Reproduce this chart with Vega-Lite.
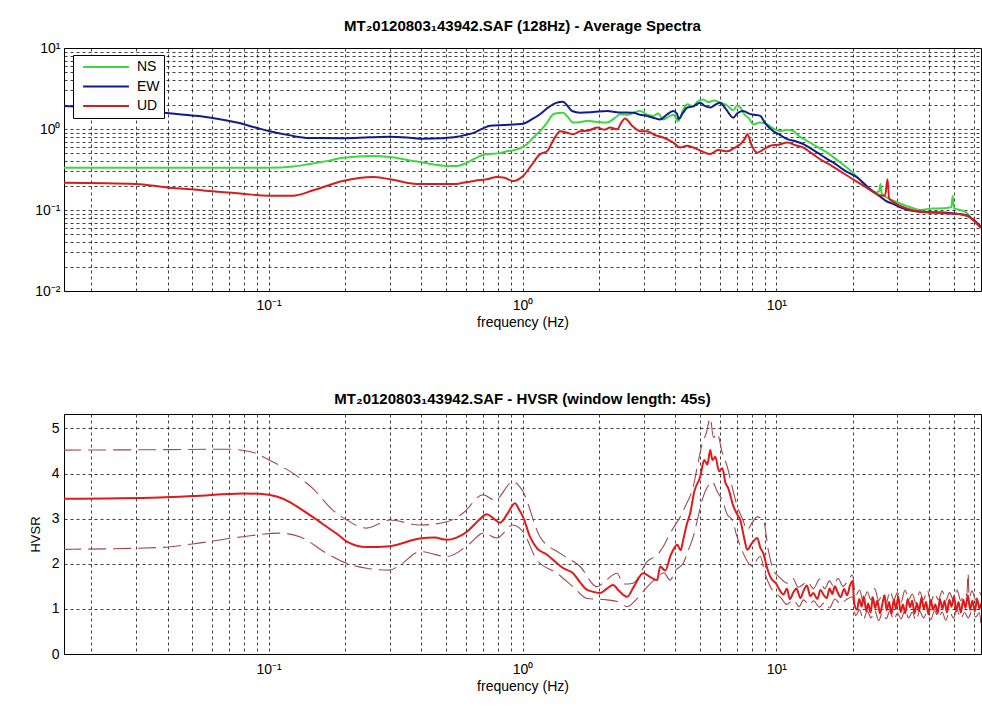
{
  "$schema": "https://vega.github.io/schema/vega-lite/v6.json",
  "padding": {"left": 28, "top": 18, "right": 0, "bottom": 0},
  "spacing": 61,
  "background": "white",
  "config": {
    "font": "Liberation Sans",
    "view": {"stroke": "black", "strokeWidth": 1},
    "axis": {
      "gridColor": "black", "gridDash": [3, 3], "gridOpacity": 0.75, "gridWidth": 1,
      "domain": false, "ticks": false, "labelColor": "black", "labelFontSize": 14,
      "titleFontSize": 14, "titleFontWeight": "normal", "titleColor": "black",
      "labelFont": "Liberation Sans", "titleFont": "Liberation Sans", "labelOverlap": false, "labelFlush": false
    },
    "title": {"fontSize": 15, "fontWeight": "bold", "color": "black", "font": "Liberation Sans", "offset": 7},
    "legend": {"labelFont": "Liberation Sans"}
  },
  "datasets": {
    "spectra": [
      {"comp":"NS","f":0.0155,"v":0.333},{"comp":"NS","f":0.03,"v":0.333},{"comp":"NS","f":0.06,"v":0.333},{"comp":"NS","f":0.1,"v":0.333},{"comp":"NS","f":0.125,"v":0.345},{"comp":"NS","f":0.145,"v":0.37},{"comp":"NS","f":0.175,"v":0.41},{"comp":"NS","f":0.196,"v":0.443},{"comp":"NS","f":0.257,"v":0.464},{"comp":"NS","f":0.3,"v":0.45},{"comp":"NS","f":0.36,"v":0.41},{"comp":"NS","f":0.405,"v":0.385},{"comp":"NS","f":0.504,"v":0.35},{"comp":"NS","f":0.551,"v":0.35},{"comp":"NS","f":0.6,"v":0.38},{"comp":"NS","f":0.638,"v":0.42},{"comp":"NS","f":0.724,"v":0.49},{"comp":"NS","f":0.8,"v":0.5},{"comp":"NS","f":0.869,"v":0.53},{"comp":"NS","f":0.95,"v":0.56},{"comp":"NS","f":1.042,"v":0.65},{"comp":"NS","f":1.1,"v":0.78},{"comp":"NS","f":1.172,"v":0.94},{"comp":"NS","f":1.25,"v":1.2},{"comp":"NS","f":1.319,"v":1.52},{"comp":"NS","f":1.38,"v":1.58},{"comp":"NS","f":1.444,"v":1.59},{"comp":"NS","f":1.51,"v":1.4},{"comp":"NS","f":1.582,"v":1.2},{"comp":"NS","f":1.7,"v":1.22},{"comp":"NS","f":1.797,"v":1.26},{"comp":"NS","f":1.97,"v":1.22},{"comp":"NS","f":2.154,"v":1.2},{"comp":"NS","f":2.3,"v":1.35},{"comp":"NS","f":2.424,"v":1.52},{"comp":"NS","f":2.6,"v":1.5},{"comp":"NS","f":2.75,"v":1.6},{"comp":"NS","f":2.908,"v":1.67},{"comp":"NS","f":3.1,"v":1.5},{"comp":"NS","f":3.27,"v":1.45},{"comp":"NS","f":3.42,"v":1.55},{"comp":"NS","f":3.583,"v":1.31},{"comp":"NS","f":3.8,"v":1.45},{"comp":"NS","f":3.93,"v":1.5},{"comp":"NS","f":4.107,"v":1.25},{"comp":"NS","f":4.3,"v":1.75},{"comp":"NS","f":4.457,"v":2.02},{"comp":"NS","f":4.7,"v":1.9},{"comp":"NS","f":4.9,"v":2.2},{"comp":"NS","f":5.152,"v":2.32},{"comp":"NS","f":5.4,"v":2.15},{"comp":"NS","f":5.7,"v":2.25},{"comp":"NS","f":6.013,"v":2.11},{"comp":"NS","f":6.4,"v":1.95},{"comp":"NS","f":6.77,"v":1.7},{"comp":"NS","f":7.0,"v":1.95},{"comp":"NS","f":7.211,"v":1.84},{"comp":"NS","f":7.5,"v":1.5},{"comp":"NS","f":7.8,"v":1.35},{"comp":"NS","f":8.116,"v":1.14},{"comp":"NS","f":8.6,"v":1.2},{"comp":"NS","f":9.215,"v":1.14},{"comp":"NS","f":9.8,"v":1.0},{"comp":"NS","f":10.37,"v":0.94},{"comp":"NS","f":11.0,"v":0.98},{"comp":"NS","f":11.67,"v":0.94},{"comp":"NS","f":12.4,"v":0.8},{"comp":"NS","f":13.26,"v":0.71},{"comp":"NS","f":14.5,"v":0.6},{"comp":"NS","f":15.89,"v":0.51},{"comp":"NS","f":17.4,"v":0.41},{"comp":"NS","f":19.06,"v":0.33},{"comp":"NS","f":21,"v":0.25},{"comp":"NS","f":22.86,"v":0.19},{"comp":"NS","f":24.5,"v":0.165},{"comp":"NS","f":25.4,"v":0.17},{"comp":"NS","f":25.72,"v":0.21},{"comp":"NS","f":26.0,"v":0.16},{"comp":"NS","f":27.5,"v":0.14},{"comp":"NS","f":28.94,"v":0.13},{"comp":"NS","f":32,"v":0.115},{"comp":"NS","f":36.98,"v":0.1},{"comp":"NS","f":41,"v":0.104},{"comp":"NS","f":45.6,"v":0.105},{"comp":"NS","f":48.9,"v":0.108},{"comp":"NS","f":49.5,"v":0.15},{"comp":"NS","f":50.1,"v":0.105},{"comp":"NS","f":53,"v":0.1},{"comp":"NS","f":56.7,"v":0.09},{"comp":"NS","f":58.3,"v":0.08},{"comp":"NS","f":61,"v":0.07},{"comp":"NS","f":64,"v":0.062},
      {"comp":"EW","f":0.0155,"v":1.92},{"comp":"EW","f":0.02,"v":1.85},{"comp":"EW","f":0.03,"v":1.7},{"comp":"EW","f":0.0396,"v":1.58},{"comp":"EW","f":0.05,"v":1.47},{"comp":"EW","f":0.0601,"v":1.37},{"comp":"EW","f":0.075,"v":1.2},{"comp":"EW","f":0.09,"v":1.03},{"comp":"EW","f":0.1,"v":0.945},{"comp":"EW","f":0.12,"v":0.84},{"comp":"EW","f":0.1451,"v":0.774},{"comp":"EW","f":0.1958,"v":0.77},{"comp":"EW","f":0.25,"v":0.79},{"comp":"EW","f":0.3,"v":0.8},{"comp":"EW","f":0.36,"v":0.78},{"comp":"EW","f":0.405,"v":0.76},{"comp":"EW","f":0.48,"v":0.77},{"comp":"EW","f":0.551,"v":0.8},{"comp":"EW","f":0.6,"v":0.85},{"comp":"EW","f":0.638,"v":0.89},{"comp":"EW","f":0.7,"v":1.02},{"comp":"EW","f":0.744,"v":1.1},{"comp":"EW","f":0.85,"v":1.12},{"comp":"EW","f":1.005,"v":1.16},{"comp":"EW","f":1.08,"v":1.3},{"comp":"EW","f":1.172,"v":1.52},{"comp":"EW","f":1.25,"v":1.8},{"comp":"EW","f":1.319,"v":2.02},{"comp":"EW","f":1.4,"v":2.15},{"comp":"EW","f":1.444,"v":2.17},{"comp":"EW","f":1.5,"v":1.95},{"comp":"EW","f":1.568,"v":1.67},{"comp":"EW","f":1.686,"v":1.59},{"comp":"EW","f":1.9,"v":1.62},{"comp":"EW","f":2.154,"v":1.67},{"comp":"EW","f":2.4,"v":1.6},{"comp":"EW","f":2.729,"v":1.59},{"comp":"EW","f":2.9,"v":1.5},{"comp":"EW","f":3.1,"v":1.45},{"comp":"EW","f":3.272,"v":1.38},{"comp":"EW","f":3.486,"v":1.31},{"comp":"EW","f":3.7,"v":1.5},{"comp":"EW","f":3.925,"v":1.67},{"comp":"EW","f":4.07,"v":1.53},{"comp":"EW","f":4.107,"v":1.33},{"comp":"EW","f":4.3,"v":1.6},{"comp":"EW","f":4.457,"v":1.84},{"comp":"EW","f":4.7,"v":1.9},{"comp":"EW","f":5.013,"v":2.11},{"comp":"EW","f":5.2,"v":1.95},{"comp":"EW","f":5.49,"v":1.84},{"comp":"EW","f":5.75,"v":2.0},{"comp":"EW","f":6.013,"v":2.11},{"comp":"EW","f":6.3,"v":1.8},{"comp":"EW","f":6.767,"v":1.38},{"comp":"EW","f":7.0,"v":1.55},{"comp":"EW","f":7.409,"v":1.67},{"comp":"EW","f":7.8,"v":1.55},{"comp":"EW","f":8.2,"v":1.5},{"comp":"EW","f":8.648,"v":1.45},{"comp":"EW","f":9.0,"v":1.2},{"comp":"EW","f":9.731,"v":0.94},{"comp":"EW","f":10.3,"v":0.85},{"comp":"EW","f":11.05,"v":0.75},{"comp":"EW","f":12.0,"v":0.7},{"comp":"EW","f":12.78,"v":0.65},{"comp":"EW","f":13.6,"v":0.58},{"comp":"EW","f":14.51,"v":0.51},{"comp":"EW","f":15.6,"v":0.44},{"comp":"EW","f":16.79,"v":0.385},{"comp":"EW","f":18.5,"v":0.31},{"comp":"EW","f":20.87,"v":0.25},{"comp":"EW","f":23,"v":0.19},{"comp":"EW","f":25.03,"v":0.155},{"comp":"EW","f":27,"v":0.13},{"comp":"EW","f":28.94,"v":0.118},{"comp":"EW","f":31.5,"v":0.105},{"comp":"EW","f":34.71,"v":0.097},{"comp":"EW","f":40,"v":0.094},{"comp":"EW","f":45.6,"v":0.093},{"comp":"EW","f":51,"v":0.09},{"comp":"EW","f":56.7,"v":0.085},{"comp":"EW","f":60,"v":0.075},{"comp":"EW","f":64,"v":0.062},
      {"comp":"UD","f":0.0155,"v":0.217},{"comp":"UD","f":0.03,"v":0.21},{"comp":"UD","f":0.0396,"v":0.19},{"comp":"UD","f":0.05,"v":0.18},{"comp":"UD","f":0.0601,"v":0.17},{"comp":"UD","f":0.08,"v":0.158},{"comp":"UD","f":0.1,"v":0.15},{"comp":"UD","f":0.1244,"v":0.15},{"comp":"UD","f":0.15,"v":0.175},{"comp":"UD","f":0.1958,"v":0.228},{"comp":"UD","f":0.2572,"v":0.256},{"comp":"UD","f":0.3,"v":0.24},{"comp":"UD","f":0.3835,"v":0.21},{"comp":"UD","f":0.551,"v":0.21},{"comp":"UD","f":0.582,"v":0.217},{"comp":"UD","f":0.65,"v":0.23},{"comp":"UD","f":0.724,"v":0.24},{"comp":"UD","f":0.793,"v":0.256},{"comp":"UD","f":0.85,"v":0.25},{"comp":"UD","f":0.917,"v":0.228},{"comp":"UD","f":1.005,"v":0.263},{"comp":"UD","f":1.08,"v":0.35},{"comp":"UD","f":1.172,"v":0.49},{"comp":"UD","f":1.249,"v":0.53},{"comp":"UD","f":1.33,"v":0.75},{"comp":"UD","f":1.406,"v":0.94},{"comp":"UD","f":1.5,"v":0.9},{"comp":"UD","f":1.582,"v":0.86},{"comp":"UD","f":1.686,"v":0.94},{"comp":"UD","f":1.8,"v":0.95},{"comp":"UD","f":1.968,"v":1.04},{"comp":"UD","f":2.1,"v":0.98},{"comp":"UD","f":2.214,"v":1.04},{"comp":"UD","f":2.36,"v":0.99},{"comp":"UD","f":2.45,"v":1.2},{"comp":"UD","f":2.536,"v":1.35},{"comp":"UD","f":2.7,"v":1.1},{"comp":"UD","f":2.908,"v":0.94},{"comp":"UD","f":3.099,"v":0.94},{"comp":"UD","f":3.3,"v":0.85},{"comp":"UD","f":3.6,"v":0.78},{"comp":"UD","f":3.925,"v":0.68},{"comp":"UD","f":4.182,"v":0.59},{"comp":"UD","f":4.45,"v":0.62},{"comp":"UD","f":4.706,"v":0.59},{"comp":"UD","f":5.1,"v":0.53},{"comp":"UD","f":5.49,"v":0.49},{"comp":"UD","f":5.9,"v":0.55},{"comp":"UD","f":6.409,"v":0.53},{"comp":"UD","f":6.8,"v":0.58},{"comp":"UD","f":7.211,"v":0.65},{"comp":"UD","f":7.5,"v":0.75},{"comp":"UD","f":7.685,"v":0.86},{"comp":"UD","f":8.0,"v":0.62},{"comp":"UD","f":8.414,"v":0.51},{"comp":"UD","f":8.9,"v":0.56},{"comp":"UD","f":9.47,"v":0.62},{"comp":"UD","f":10.2,"v":0.64},{"comp":"UD","f":11.05,"v":0.68},{"comp":"UD","f":11.9,"v":0.63},{"comp":"UD","f":12.78,"v":0.59},{"comp":"UD","f":13.8,"v":0.5},{"comp":"UD","f":14.92,"v":0.42},{"comp":"UD","f":16.3,"v":0.36},{"comp":"UD","f":17.89,"v":0.3},{"comp":"UD","f":19.6,"v":0.25},{"comp":"UD","f":21.45,"v":0.21},{"comp":"UD","f":23.2,"v":0.18},{"comp":"UD","f":25.03,"v":0.155},{"comp":"UD","f":26.8,"v":0.15},{"comp":"UD","f":27.41,"v":0.24},{"comp":"UD","f":27.8,"v":0.14},{"comp":"UD","f":29,"v":0.125},{"comp":"UD","f":30.85,"v":0.112},{"comp":"UD","f":34,"v":0.1},{"comp":"UD","f":39.42,"v":0.093},{"comp":"UD","f":44,"v":0.092},{"comp":"UD","f":49.9,"v":0.09},{"comp":"UD","f":54,"v":0.088},{"comp":"UD","f":58.3,"v":0.08},{"comp":"UD","f":61,"v":0.07},{"comp":"UD","f":64,"v":0.06}
    ],
    "hvsr": [
      {"curve":"mean","f":0.0155,"v":3.44},{"curve":"mean","f":0.0372,"v":3.47},{"curve":"mean","f":0.0501,"v":3.5},{"curve":"mean","f":0.079,"v":3.56},{"curve":"mean","f":0.0922,"v":3.55},{"curve":"mean","f":0.1075,"v":3.49},{"curve":"mean","f":0.12,"v":3.38},{"curve":"mean","f":0.1326,"v":3.23},{"curve":"mean","f":0.15,"v":3.03},{"curve":"mean","f":0.1694,"v":2.82},{"curve":"mean","f":0.19,"v":2.62},{"curve":"mean","f":0.2031,"v":2.49},{"curve":"mean","f":0.2435,"v":2.37},{"curve":"mean","f":0.3,"v":2.39},{"curve":"mean","f":0.394,"v":2.56},{"curve":"mean","f":0.45,"v":2.58},{"curve":"mean","f":0.504,"v":2.53},{"curve":"mean","f":0.55,"v":2.58},{"curve":"mean","f":0.604,"v":2.71},{"curve":"mean","f":0.66,"v":2.92},{"curve":"mean","f":0.724,"v":3.1},{"curve":"mean","f":0.77,"v":3.0},{"curve":"mean","f":0.815,"v":2.91},{"curve":"mean","f":0.87,"v":3.1},{"curve":"mean","f":0.934,"v":3.34},{"curve":"mean","f":0.97,"v":3.2},{"curve":"mean","f":1.005,"v":3.04},{"curve":"mean","f":1.07,"v":2.6},{"curve":"mean","f":1.141,"v":2.34},{"curve":"mean","f":1.25,"v":2.2},{"curve":"mean","f":1.368,"v":2.01},{"curve":"mean","f":1.45,"v":1.9},{"curve":"mean","f":1.582,"v":1.79},{"curve":"mean","f":1.68,"v":1.6},{"curve":"mean","f":1.797,"v":1.42},{"curve":"mean","f":1.9,"v":1.38},{"curve":"mean","f":2.022,"v":1.35},{"curve":"mean","f":2.15,"v":1.45},{"curve":"mean","f":2.275,"v":1.53},{"curve":"mean","f":2.4,"v":1.4},{"curve":"mean","f":2.583,"v":1.27},{"curve":"mean","f":2.75,"v":1.5},{"curve":"mean","f":2.988,"v":1.79},{"curve":"mean","f":3.2,"v":1.7},{"curve":"mean","f":3.393,"v":1.64},{"curve":"mean","f":3.486,"v":1.94},{"curve":"mean","f":3.65,"v":1.85},{"curve":"mean","f":3.819,"v":2.16},{"curve":"mean","f":3.925,"v":2.31},{"curve":"mean","f":4.07,"v":2.42},{"curve":"mean","f":4.2,"v":2.3},{"curve":"mean","f":4.297,"v":2.53},{"curve":"mean","f":4.45,"v":2.9},{"curve":"mean","f":4.578,"v":3.12},{"curve":"mean","f":4.75,"v":3.6},{"curve":"mean","f":5.013,"v":3.93},{"curve":"mean","f":5.2,"v":4.3},{"curve":"mean","f":5.35,"v":4.2},{"curve":"mean","f":5.49,"v":4.52},{"curve":"mean","f":5.6,"v":4.3},{"curve":"mean","f":5.746,"v":4.37},{"curve":"mean","f":5.95,"v":4.05},{"curve":"mean","f":6.124,"v":4.12},{"curve":"mean","f":6.3,"v":3.8},{"curve":"mean","f":6.467,"v":3.67},{"curve":"mean","f":6.75,"v":3.3},{"curve":"mean","f":7.0,"v":3.1},{"curve":"mean","f":7.211,"v":2.97},{"curve":"mean","f":7.45,"v":2.6},{"curve":"mean","f":7.685,"v":2.31},{"curve":"mean","f":8.0,"v":2.45},{"curve":"mean","f":8.414,"v":2.57},{"curve":"mean","f":8.65,"v":2.35},{"curve":"mean","f":8.887,"v":2.23},{"curve":"mean","f":9.2,"v":1.9},{"curve":"mean","f":9.47,"v":1.71},{"curve":"mean","f":10.0,"v":1.55},{"curve":"mean","f":10.3,"v":1.42},{"curve":"mean","f":10.66,"v":1.32},{"curve":"mean","f":11.0,"v":1.45},{"curve":"mean","f":11.3,"v":1.22},{"curve":"mean","f":11.7,"v":1.38},{"curve":"mean","f":12.0,"v":1.45},{"curve":"mean","f":12.44,"v":1.24},{"curve":"mean","f":12.8,"v":1.4},{"curve":"mean","f":13.2,"v":1.52},{"curve":"mean","f":13.6,"v":1.28},{"curve":"mean","f":14.0,"v":1.35},{"curve":"mean","f":14.5,"v":1.22},{"curve":"mean","f":14.92,"v":1.42},{"curve":"mean","f":15.4,"v":1.3},{"curve":"mean","f":15.8,"v":1.24},{"curve":"mean","f":16.2,"v":1.45},{"curve":"mean","f":16.6,"v":1.33},{"curve":"mean","f":17.0,"v":1.5},{"curve":"mean","f":17.4,"v":1.38},{"curve":"mean","f":17.9,"v":1.26},{"curve":"mean","f":18.5,"v":1.44},{"curve":"mean","f":19.0,"v":1.3},{"curve":"mean","f":19.5,"v":1.52},{"curve":"mean","f":19.94,"v":1.62},{"curve":"mean","f":20.3,"v":1.1},{"curve":"mean","f":20.8,"v":0.98},{"curve":"mean","f":21.2,"v":1.22},{"curve":"mean","f":21.7,"v":1.05},{"curve":"mean","f":22.1,"v":1.28},{"curve":"mean","f":22.6,"v":0.95},{"curve":"mean","f":23.0,"v":1.12},{"curve":"mean","f":23.5,"v":0.92},{"curve":"mean","f":24.0,"v":1.25},{"curve":"mean","f":24.5,"v":1.02},{"curve":"mean","f":25.0,"v":1.18},{"curve":"mean","f":25.6,"v":0.9},{"curve":"mean","f":26.1,"v":1.08},{"curve":"mean","f":26.7,"v":1.3},{"curve":"mean","f":27.2,"v":0.97},{"curve":"mean","f":27.8,"v":1.15},{"curve":"mean","f":28.4,"v":0.88},{"curve":"mean","f":29.0,"v":1.2},{"curve":"mean","f":29.6,"v":1.0},{"curve":"mean","f":30.2,"v":1.27},{"curve":"mean","f":30.9,"v":0.93},{"curve":"mean","f":31.5,"v":1.1},{"curve":"mean","f":32.2,"v":0.9},{"curve":"mean","f":32.9,"v":1.22},{"curve":"mean","f":33.6,"v":1.04},{"curve":"mean","f":34.3,"v":1.18},{"curve":"mean","f":35.0,"v":0.9},{"curve":"mean","f":35.8,"v":1.12},{"curve":"mean","f":36.5,"v":0.95},{"curve":"mean","f":37.3,"v":1.25},{"curve":"mean","f":38.1,"v":1.0},{"curve":"mean","f":38.9,"v":1.15},{"curve":"mean","f":39.7,"v":0.88},{"curve":"mean","f":40.6,"v":1.2},{"curve":"mean","f":41.4,"v":0.98},{"curve":"mean","f":42.3,"v":1.1},{"curve":"mean","f":43.2,"v":0.9},{"curve":"mean","f":44.1,"v":1.22},{"curve":"mean","f":45.1,"v":1.0},{"curve":"mean","f":46.0,"v":1.18},{"curve":"mean","f":47.0,"v":0.92},{"curve":"mean","f":48.0,"v":1.2},{"curve":"mean","f":49.0,"v":1.05},{"curve":"mean","f":50.1,"v":1.28},{"curve":"mean","f":51.1,"v":0.95},{"curve":"mean","f":52.2,"v":1.15},{"curve":"mean","f":53.3,"v":0.92},{"curve":"mean","f":54.5,"v":1.2},{"curve":"mean","f":55.6,"v":1.02},{"curve":"mean","f":56.8,"v":1.3},{"curve":"mean","f":58.0,"v":0.98},{"curve":"mean","f":59.2,"v":1.18},{"curve":"mean","f":60.5,"v":0.95},{"curve":"mean","f":61.8,"v":1.22},{"curve":"mean","f":63.1,"v":1.0},{"curve":"mean","f":64,"v":1.12},
      {"curve":"upper","f":0.0155,"v":4.52},{"curve":"upper","f":0.04,"v":4.53},{"curve":"upper","f":0.0683,"v":4.54},{"curve":"upper","f":0.0841,"v":4.49},{"curve":"upper","f":0.1037,"v":4.26},{"curve":"upper","f":0.1244,"v":4.01},{"curve":"upper","f":0.1492,"v":3.67},{"curve":"upper","f":0.1789,"v":3.19},{"curve":"upper","f":0.2031,"v":2.97},{"curve":"upper","f":0.2435,"v":2.79},{"curve":"upper","f":0.3,"v":2.97},{"curve":"upper","f":0.394,"v":2.86},{"curve":"upper","f":0.504,"v":2.93},{"curve":"upper","f":0.582,"v":3.12},{"curve":"upper","f":0.699,"v":3.53},{"curve":"upper","f":0.779,"v":3.41},{"curve":"upper","f":0.917,"v":3.82},{"curve":"upper","f":0.995,"v":3.64},{"curve":"upper","f":1.172,"v":2.6},{"curve":"upper","f":1.406,"v":2.23},{"curve":"upper","f":1.686,"v":1.94},{"curve":"upper","f":1.968,"v":1.49},{"curve":"upper","f":2.1,"v":1.6},{"curve":"upper","f":2.36,"v":1.79},{"curve":"upper","f":2.5,"v":1.55},{"curve":"upper","f":2.729,"v":1.57},{"curve":"upper","f":3.099,"v":2.05},{"curve":"upper","f":3.4,"v":2.2},{"curve":"upper","f":3.6,"v":2.4},{"curve":"upper","f":3.819,"v":2.68},{"curve":"upper","f":4.182,"v":3.04},{"curve":"upper","f":4.4,"v":3.3},{"curve":"upper","f":4.706,"v":3.71},{"curve":"upper","f":4.9,"v":4.2},{"curve":"upper","f":5.107,"v":4.67},{"curve":"upper","f":5.3,"v":4.9},{"curve":"upper","f":5.49,"v":5.23},{"curve":"upper","f":5.65,"v":4.8},{"curve":"upper","f":5.851,"v":4.89},{"curve":"upper","f":6.1,"v":4.5},{"curve":"upper","f":6.409,"v":4.15},{"curve":"upper","f":6.7,"v":3.7},{"curve":"upper","f":7.017,"v":3.27},{"curve":"upper","f":7.35,"v":3.0},{"curve":"upper","f":7.685,"v":2.75},{"curve":"upper","f":8.0,"v":2.9},{"curve":"upper","f":8.414,"v":3.04},{"curve":"upper","f":8.887,"v":2.97},{"curve":"upper","f":9.3,"v":2.3},{"curve":"upper","f":9.731,"v":1.86},{"curve":"upper","f":10.3,"v":1.7},{"curve":"upper","f":11.05,"v":1.57},{"curve":"upper","f":11.6,"v":1.68},{"curve":"upper","f":12.2,"v":1.48},{"curve":"upper","f":13.26,"v":1.6},{"curve":"upper","f":14.0,"v":1.45},{"curve":"upper","f":14.8,"v":1.66},{"curve":"upper","f":15.5,"v":1.45},{"curve":"upper","f":16.2,"v":1.62},{"curve":"upper","f":16.79,"v":1.5},{"curve":"upper","f":17.5,"v":1.68},{"curve":"upper","f":18.3,"v":1.5},{"curve":"upper","f":19.2,"v":1.64},{"curve":"upper","f":19.94,"v":1.75},{"curve":"upper","f":20.5,"v":1.3},{"curve":"upper","f":21.3,"v":1.42},{"curve":"upper","f":22.0,"v":1.15},{"curve":"upper","f":22.8,"v":1.38},{"curve":"upper","f":23.6,"v":1.2},{"curve":"upper","f":24.4,"v":1.45},{"curve":"upper","f":25.3,"v":1.18},{"curve":"upper","f":26.2,"v":1.35},{"curve":"upper","f":27.1,"v":1.12},{"curve":"upper","f":28.0,"v":1.4},{"curve":"upper","f":29.0,"v":1.2},{"curve":"upper","f":30.0,"v":1.36},{"curve":"upper","f":31.0,"v":1.15},{"curve":"upper","f":32.1,"v":1.42},{"curve":"upper","f":33.2,"v":1.2},{"curve":"upper","f":34.3,"v":1.33},{"curve":"upper","f":35.5,"v":1.12},{"curve":"upper","f":36.7,"v":1.38},{"curve":"upper","f":38.0,"v":1.2},{"curve":"upper","f":39.3,"v":1.42},{"curve":"upper","f":40.6,"v":1.15},{"curve":"upper","f":42.0,"v":1.35},{"curve":"upper","f":43.5,"v":1.2},{"curve":"upper","f":45.0,"v":1.4},{"curve":"upper","f":46.5,"v":1.18},{"curve":"upper","f":48.1,"v":1.36},{"curve":"upper","f":49.8,"v":1.2},{"curve":"upper","f":51.5,"v":1.42},{"curve":"upper","f":53.3,"v":1.18},{"curve":"upper","f":55.1,"v":1.35},{"curve":"upper","f":56.3,"v":1.3},{"curve":"upper","f":56.9,"v":1.79},{"curve":"upper","f":57.5,"v":1.25},{"curve":"upper","f":59.0,"v":1.4},{"curve":"upper","f":61.0,"v":1.2},{"curve":"upper","f":63.0,"v":1.38},{"curve":"upper","f":64,"v":1.3},
      {"curve":"lower","f":0.0155,"v":2.32},{"curve":"lower","f":0.0372,"v":2.36},{"curve":"lower","f":0.0501,"v":2.44},{"curve":"lower","f":0.079,"v":2.6},{"curve":"lower","f":0.1105,"v":2.68},{"curve":"lower","f":0.1326,"v":2.6},{"curve":"lower","f":0.1694,"v":2.23},{"curve":"lower","f":0.2031,"v":2.01},{"curve":"lower","f":0.2435,"v":1.9},{"curve":"lower","f":0.3,"v":1.86},{"curve":"lower","f":0.3287,"v":1.97},{"curve":"lower","f":0.394,"v":2.27},{"curve":"lower","f":0.504,"v":2.16},{"curve":"lower","f":0.621,"v":2.45},{"curve":"lower","f":0.699,"v":2.68},{"curve":"lower","f":0.793,"v":2.57},{"curve":"lower","f":0.917,"v":2.86},{"curve":"lower","f":1.005,"v":2.71},{"curve":"lower","f":1.141,"v":2.08},{"curve":"lower","f":1.368,"v":1.79},{"curve":"lower","f":1.582,"v":1.49},{"curve":"lower","f":1.797,"v":1.23},{"curve":"lower","f":2.154,"v":1.2},{"curve":"lower","f":2.4,"v":1.15},{"curve":"lower","f":2.583,"v":1.05},{"curve":"lower","f":2.8,"v":1.2},{"curve":"lower","f":3.099,"v":1.49},{"curve":"lower","f":3.4,"v":1.7},{"curve":"lower","f":3.6,"v":1.8},{"curve":"lower","f":3.819,"v":1.64},{"curve":"lower","f":4.0,"v":1.85},{"curve":"lower","f":4.297,"v":2.01},{"curve":"lower","f":4.5,"v":2.3},{"curve":"lower","f":4.706,"v":2.6},{"curve":"lower","f":4.9,"v":3.0},{"curve":"lower","f":5.152,"v":3.49},{"curve":"lower","f":5.35,"v":3.7},{"curve":"lower","f":5.592,"v":3.82},{"curve":"lower","f":5.85,"v":3.6},{"curve":"lower","f":6.124,"v":3.41},{"curve":"lower","f":6.4,"v":3.1},{"curve":"lower","f":6.706,"v":2.97},{"curve":"lower","f":7.0,"v":2.6},{"curve":"lower","f":7.409,"v":2.23},{"curve":"lower","f":7.8,"v":2.0},{"curve":"lower","f":8.116,"v":1.94},{"curve":"lower","f":8.4,"v":2.1},{"curve":"lower","f":8.648,"v":2.16},{"curve":"lower","f":9.0,"v":1.8},{"curve":"lower","f":9.47,"v":1.49},{"curve":"lower","f":10.4,"v":1.25},{"curve":"lower","f":11.0,"v":1.1},{"curve":"lower","f":11.67,"v":1.2},{"curve":"lower","f":12.3,"v":1.05},{"curve":"lower","f":12.8,"v":1.2},{"curve":"lower","f":13.5,"v":1.08},{"curve":"lower","f":14.0,"v":1.18},{"curve":"lower","f":14.8,"v":1.04},{"curve":"lower","f":15.5,"v":1.15},{"curve":"lower","f":16.2,"v":1.02},{"curve":"lower","f":17.0,"v":1.22},{"curve":"lower","f":17.89,"v":1.1},{"curve":"lower","f":18.8,"v":1.2},{"curve":"lower","f":19.94,"v":1.27},{"curve":"lower","f":20.5,"v":0.85},{"curve":"lower","f":21.3,"v":0.98},{"curve":"lower","f":22.0,"v":0.75},{"curve":"lower","f":22.8,"v":0.95},{"curve":"lower","f":23.6,"v":0.8},{"curve":"lower","f":24.4,"v":0.97},{"curve":"lower","f":25.3,"v":0.74},{"curve":"lower","f":26.2,"v":0.92},{"curve":"lower","f":27.1,"v":0.78},{"curve":"lower","f":28.0,"v":0.96},{"curve":"lower","f":29.0,"v":0.75},{"curve":"lower","f":30.0,"v":0.9},{"curve":"lower","f":31.0,"v":0.78},{"curve":"lower","f":32.1,"v":0.97},{"curve":"lower","f":33.2,"v":0.8},{"curve":"lower","f":34.3,"v":0.93},{"curve":"lower","f":35.5,"v":0.74},{"curve":"lower","f":36.7,"v":0.95},{"curve":"lower","f":38.0,"v":0.8},{"curve":"lower","f":39.3,"v":0.92},{"curve":"lower","f":40.6,"v":0.76},{"curve":"lower","f":42.0,"v":0.96},{"curve":"lower","f":43.5,"v":0.8},{"curve":"lower","f":45.0,"v":0.93},{"curve":"lower","f":46.5,"v":0.75},{"curve":"lower","f":48.1,"v":0.94},{"curve":"lower","f":49.8,"v":0.8},{"curve":"lower","f":51.5,"v":0.97},{"curve":"lower","f":53.3,"v":0.78},{"curve":"lower","f":55.1,"v":0.92},{"curve":"lower","f":57.0,"v":0.8},{"curve":"lower","f":59.0,"v":0.95},{"curve":"lower","f":61.0,"v":0.82},{"curve":"lower","f":63.0,"v":0.92},{"curve":"lower","f":64,"v":0.65}
    ]
  },
  "vconcat": [
    {
      "width": 917,
      "height": 243,
      "title": {"text": "MT₂0120803₁43942.SAF (128Hz) - Average Spectra"},
      "data": {"name": "spectra"},
      "mark": {"type": "line", "strokeWidth": 2, "clip": true, "interpolate": "monotone"},
      "encoding": {
        "x": {
          "field": "f", "type": "quantitative",
          "scale": {"type": "log", "domain": [0.015625, 64], "nice": false},
          "axis": {
            "values": [0.02,0.03,0.04,0.05,0.06,0.07,0.08,0.09,0.1,0.2,0.3,0.4,0.5,0.6,0.7,0.8,0.9,1,2,3,4,5,6,7,8,9,10,20,30,40,50,60],
            "labelExpr": "datum.value == 0.1 ? '10⁻¹' : datum.value == 1 ? '10⁰' : datum.value == 10 ? '10¹' : ''",
            "title": "frequency (Hz)", "labelPadding": 7, "titlePadding": 3
          }
        },
        "y": {
          "field": "v", "type": "quantitative",
          "scale": {"type": "log", "domain": [0.01, 10], "nice": false},
          "axis": {
            "values": [0.01,0.02,0.03,0.04,0.05,0.06,0.07,0.08,0.09,0.1,0.2,0.3,0.4,0.5,0.6,0.7,0.8,0.9,1,2,3,4,5,6,7,8,9,10],
            "labelExpr": "datum.value == 0.01 ? '10⁻²' : datum.value == 0.1 ? '10⁻¹' : datum.value == 1 ? '10⁰' : datum.value == 10 ? '10¹' : ''",
            "title": null, "labelPadding": 4
          }
        },
        "color": {
          "field": "comp", "type": "nominal",
          "scale": {"domain": ["NS", "EW", "UD"], "range": ["#3ed83e", "#101c8e", "#d02020"]},
          "legend": {
            "title": null, "orient": "none", "legendX": 9, "legendY": 7,
            "symbolType": "stroke", "symbolSize": 2100, "symbolStrokeWidth": 2, "symbolOffset": 5,
            "labelFontSize": 14, "labelColor": "black", "labelOffset": 7,
            "strokeColor": "black", "fillColor": "white", "padding": 4,
            "clipHeight": 16, "rowPadding": 3.5
          }
        }
      }
    },
    {
      "width": 917,
      "height": 240,
      "title": {"text": "MT₂0120803₁43942.SAF - HVSR (window length: 45s)"},
      "data": {"name": "hvsr"},
      "encoding": {
        "x": {
          "field": "f", "type": "quantitative",
          "scale": {"type": "log", "domain": [0.015625, 64], "nice": false},
          "axis": {
            "values": [0.02,0.03,0.04,0.05,0.06,0.07,0.08,0.09,0.1,0.2,0.3,0.4,0.5,0.6,0.7,0.8,0.9,1,2,3,4,5,6,7,8,9,10,20,30,40,50,60],
            "labelExpr": "datum.value == 0.1 ? '10⁻¹' : datum.value == 1 ? '10⁰' : datum.value == 10 ? '10¹' : ''",
            "title": "frequency (Hz)", "labelPadding": 8, "titlePadding": 3
          }
        },
        "y": {
          "field": "v", "type": "quantitative",
          "scale": {"domain": [0, 5.32], "nice": false},
          "axis": {"values": [0, 1, 2, 3, 4, 5], "title": "HVSR", "titleFontSize": 13, "labelPadding": 5, "titlePadding": 9}
        }
      },
      "layer": [
        {
          "transform": [{"filter": "datum.curve != 'mean'"}],
          "mark": {"type": "line", "strokeWidth": 1.1, "strokeDash": [18, 7], "color": "#a04848", "clip": true, "interpolate": "monotone"},
          "encoding": {"detail": {"field": "curve", "type": "nominal"}}
        },
        {
          "transform": [{"filter": "datum.curve == 'mean'"}],
          "mark": {"type": "line", "strokeWidth": 2, "color": "#e01a1a", "clip": true, "interpolate": "monotone"}
        }
      ]
    }
  ]
}
